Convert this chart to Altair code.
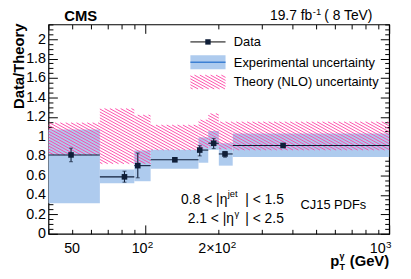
import math
import altair as alt
import pandas as pd

# ---------------- data ----------------
bin_lo = [40, 65, 90, 105, 165, 181, 200, 228]
bin_hi = [65, 90, 105, 165, 181, 200, 228, 1000]
pt_x = [49.5, 82, 93, 132, 167, 190.5, 212, 367]
ratio = [0.81, 0.585, 0.70, 0.76, 0.86, 0.93, 0.82, 0.907]
stat_lo = [0.74, 0.53, 0.575, 0.745, 0.80, 0.875, 0.787, 0.895]
stat_hi = [0.88, 0.643, 0.83, 0.775, 0.905, 0.98, 0.846, 0.92]
exp_lo = [0.315, 0.52, 0.54, 0.667, 0.73, 0.863, 0.70, 0.79]
exp_hi = [1.07, 0.66, 0.856, 0.863, 0.99, 1.056, 0.93, 1.03]
th_lo = [0.81, 0.72, 0.72, 0.86, 0.88, 0.90, 0.87, 0.86]
th_hi = [1.14, 1.286, 1.22, 1.117, 1.17, 1.235, 1.15, 1.15]

y_major = [0, 0.2, 0.4, 0.6, 0.8, 1.0, 1.2, 1.4, 1.6, 1.8, 2.0]
y_minor = [round(0.05 * i, 2) for i in range(0, 44) if i % 4 != 0]
x_major = [100, 1000]
x_minor = [40, 50, 60, 70, 80, 90, 200, 300, 400, 500, 600, 700, 800, 900]
# x tick labels: (value, base text, superscript, base right-offset px)
x_labels = [(50, "50", "", 0), (100, "10", "2", 2.1), (200, "2×10", "2", 11.8),
            (1000, "10", "3", -3.5)]

# ---------------- geometry / style ----------------
W, H = 345, 212
XMIN, XMAX = 40, 1000
YMAX = 2.15
FONT = "Liberation Sans"
BLUE = "#aecbee"
BLUE_LINE = "#3d80d3"
PINK = "#ff3fa4"
DARK = "#0f1e38"

xs = alt.Scale(type="log", domain=[XMIN, XMAX], nice=False)
ys = alt.Scale(domain=[0, YMAX], nice=False, zero=False)

LX0, LX1 = math.log10(XMIN), math.log10(XMAX)


def to_px(x):
    return (math.log10(x) - LX0) / (LX1 - LX0) * W


def to_py(y):
    return (YMAX - y) / YMAX * H


def from_px(p):
    return 10 ** (LX0 + p / W * (LX1 - LX0))


def from_py(p):
    return YMAX - p / H * YMAX


SLOPE, DC = 0.55, 3.0


def hatch(px0, px1, py0, py1):
    """diagonal hatch segments (pixel space) clipped to a box, returned in data units"""
    out = []
    cmin = py0 - SLOPE * px1
    cmax = py1 - SLOPE * px0
    for k in range(math.ceil(cmin / DC), math.floor(cmax / DC) + 1):
        c = k * DC
        pa = max(px0, (py0 - c) / SLOPE)
        pb = min(px1, (py1 - c) / SLOPE)
        if pb - pa > 0.3:
            out.append(dict(x=from_px(pa), y=from_py(SLOPE * pa + c),
                            x2=from_px(pb), y2=from_py(SLOPE * pb + c)))
    return out


hatch_rows = []
for lo, hi, a, b in zip(bin_lo, bin_hi, th_lo, th_hi):
    hatch_rows += hatch(to_px(lo), to_px(hi), to_py(b), to_py(a))
# legend hatch box
LEG_X0, LEG_X1 = 143.7, 179.3
hatch_rows += hatch(LEG_X0, LEG_X1, 51.3, 65.3)
hatch_df = pd.DataFrame(hatch_rows)

df = pd.DataFrame(dict(lo=bin_lo, hi=bin_hi, x=pt_x, r=ratio, slo=stat_lo,
                       shi=stat_hi, elo=exp_lo, ehi=exp_hi))
dummy = pd.DataFrame(dict(ax=[100], ay=[1.0]))

base = alt.Chart(df)

exp_band = base.mark_rect(fill=BLUE, stroke=None).encode(
    x=alt.X("lo:Q", scale=xs, axis=None), x2="hi:Q",
    y=alt.Y("elo:Q", scale=ys, axis=None), y2="ehi:Q")

hatch_layer = alt.Chart(hatch_df).mark_rule(color=PINK, strokeWidth=1, opacity=0.9).encode(
    x=alt.X("x:Q", scale=xs, axis=None), x2="x2:Q",
    y=alt.Y("y:Q", scale=ys, axis=None), y2="y2:Q")

xerr = base.mark_rule(color=DARK, strokeWidth=1.1).encode(
    x=alt.X("lo:Q", scale=xs, axis=None), x2="hi:Q",
    y=alt.Y("r:Q", scale=ys, axis=None))

yerr = base.mark_rule(color=DARK, strokeWidth=1.1).encode(
    x=alt.X("x:Q", scale=xs, axis=None),
    y=alt.Y("slo:Q", scale=ys, axis=None), y2="shi:Q")

cap_lo = base.mark_tick(orient="horizontal", size=4, thickness=1, color=DARK).encode(
    x=alt.X("x:Q", scale=xs, axis=None), y=alt.Y("slo:Q", scale=ys, axis=None))
cap_hi = base.mark_tick(orient="horizontal", size=4, thickness=1, color=DARK).encode(
    x=alt.X("x:Q", scale=xs, axis=None), y=alt.Y("shi:Q", scale=ys, axis=None))

points = base.mark_square(size=32, color=DARK, opacity=1).encode(
    x=alt.X("x:Q", scale=xs, axis=None), y=alt.Y("r:Q", scale=ys, axis=None))


def ax_layer(xaxis=None, yaxis=None):
    return alt.Chart(dummy).mark_point(opacity=0).encode(
        x=alt.X("ax:Q", scale=xs, axis=xaxis),
        y=alt.Y("ay:Q", scale=ys, axis=yaxis))


def tick_axis(orient, values, size):
    return alt.Axis(orient=orient, values=values, tickSize=size, offset=-size,
                    labels=False, domain=False, grid=False, title=None,
                    tickColor="black", tickWidth=1)


axes = [
    ax_layer(xaxis=tick_axis("bottom", x_major, 9)),
    ax_layer(xaxis=tick_axis("bottom", x_minor, 4.5)),
    ax_layer(xaxis=tick_axis("top", x_major, 9)),
    ax_layer(xaxis=tick_axis("top", x_minor, 4.5)),
    ax_layer(yaxis=alt.Axis(
        orient="left", values=y_major, tickSize=9, offset=-9, domain=False,
        grid=False, title=None, format="~g", labelPadding=3, labelFontSize=14.5,
        labelFont=FONT, labelColor="black", tickColor="black", tickWidth=1)),
    ax_layer(yaxis=tick_axis("left", y_minor, 4.5)),
    ax_layer(yaxis=tick_axis("right", y_major, 9)),
    ax_layer(yaxis=tick_axis("right", y_minor, 4.5)),
]

# x tick labels placed through the x scale (base text + raised exponent)
xlab = []
for v, b, s, off in x_labels:
    xlab.append(alt.Chart(dummy).mark_text(
        text=b, fontSize=14.5, font=FONT, color="black",
        align="center" if not s else "right", baseline="alphabetic",
        dx=off).encode(x=alt.XDatum(v, type="quantitative", scale=xs, axis=None),
                       y=alt.value(231.5)))
    if s:
        xlab.append(alt.Chart(dummy).mark_text(
            text=s, fontSize=10, font=FONT, color="black", align="left",
            baseline="alphabetic", dx=off + 0.3).encode(
            x=alt.XDatum(v, type="quantitative", scale=xs, axis=None),
            y=alt.value(226)))


def txt(s, x, y, size, bold=False, align="left", baseline="alphabetic", angle=0):
    return alt.Chart(dummy).mark_text(
        text=s, fontSize=size, font=FONT, fontWeight="bold" if bold else "normal",
        align=align, baseline=baseline, angle=angle, color="black").encode(
        x=alt.value(x), y=alt.value(y))


texts = [
    txt("CMS", 16, -3, 15, bold=True),
    txt("19.7 fb", 224.3, -5, 14),
    txt("-1", 267.7, -9.5, 9.5),
    txt("( 8 TeV)", 328, -5, 14, align="right"),
    txt("Data/Theory", -24.5, -1, 15, bold=True, align="right", angle=270),
    txt("p", 294.5, 245, 15, bold=True, align="right"),
    txt("T", 294.8, 249, 9, bold=True),
    txt("γ", 294.8, 237.5, 9, bold=True),
    txt(" (GeV)", 345, 245, 15, bold=True, align="right"),
    txt("0.8 < |η", 134.3, 182, 14),
    txt("jet", 181.5, 175, 9.5),
    txt("| < 1.5", 238.3, 182, 14, align="right"),
    txt("2.1 < |η", 141, 201, 14),
    txt("γ", 188.3, 194.5, 9.5),
    txt("| < 2.5", 238.3, 201, 14, align="right"),
    txt("CJ15 PDFs", 255.3, 186.5, 13),
    txt("Data", 187.7, 22.3, 13),
    txt("Experimental uncertainty", 187.7, 42.6, 13),
    txt("Theory (NLO) uncertainty", 187.7, 62.6, 13),
]

legend = [
    alt.Chart(dummy).mark_rule(color="black", strokeWidth=1).encode(
        x=alt.value(LEG_X0), x2=alt.value(LEG_X1), y=alt.value(17.7)),
    alt.Chart(dummy).mark_square(size=30, color=DARK, opacity=1).encode(
        x=alt.value((LEG_X0 + LEG_X1) / 2), y=alt.value(17.7)),
    alt.Chart(dummy).mark_rect(fill=BLUE).encode(
        x=alt.value(LEG_X0), x2=alt.value(LEG_X1), y=alt.value(31.3), y2=alt.value(45.3)),
    alt.Chart(dummy).mark_rule(color=BLUE_LINE, strokeWidth=1.5).encode(
        x=alt.value(LEG_X0), x2=alt.value(LEG_X1), y=alt.value(38.3)),
]

chart = alt.layer(
    exp_band, hatch_layer, xerr, yerr, cap_lo, cap_hi, points, *axes, *xlab,
    *texts, *legend
).properties(
    width=W, height=H,
    autosize=alt.AutoSizeParams(type="none"),
    padding={"left": 41, "top": 15, "right": 14, "bottom": 36},
).configure_view(stroke="black", strokeWidth=1.2)

chart.save("out.html", embed_options={"renderer": "svg", "actions": False})
